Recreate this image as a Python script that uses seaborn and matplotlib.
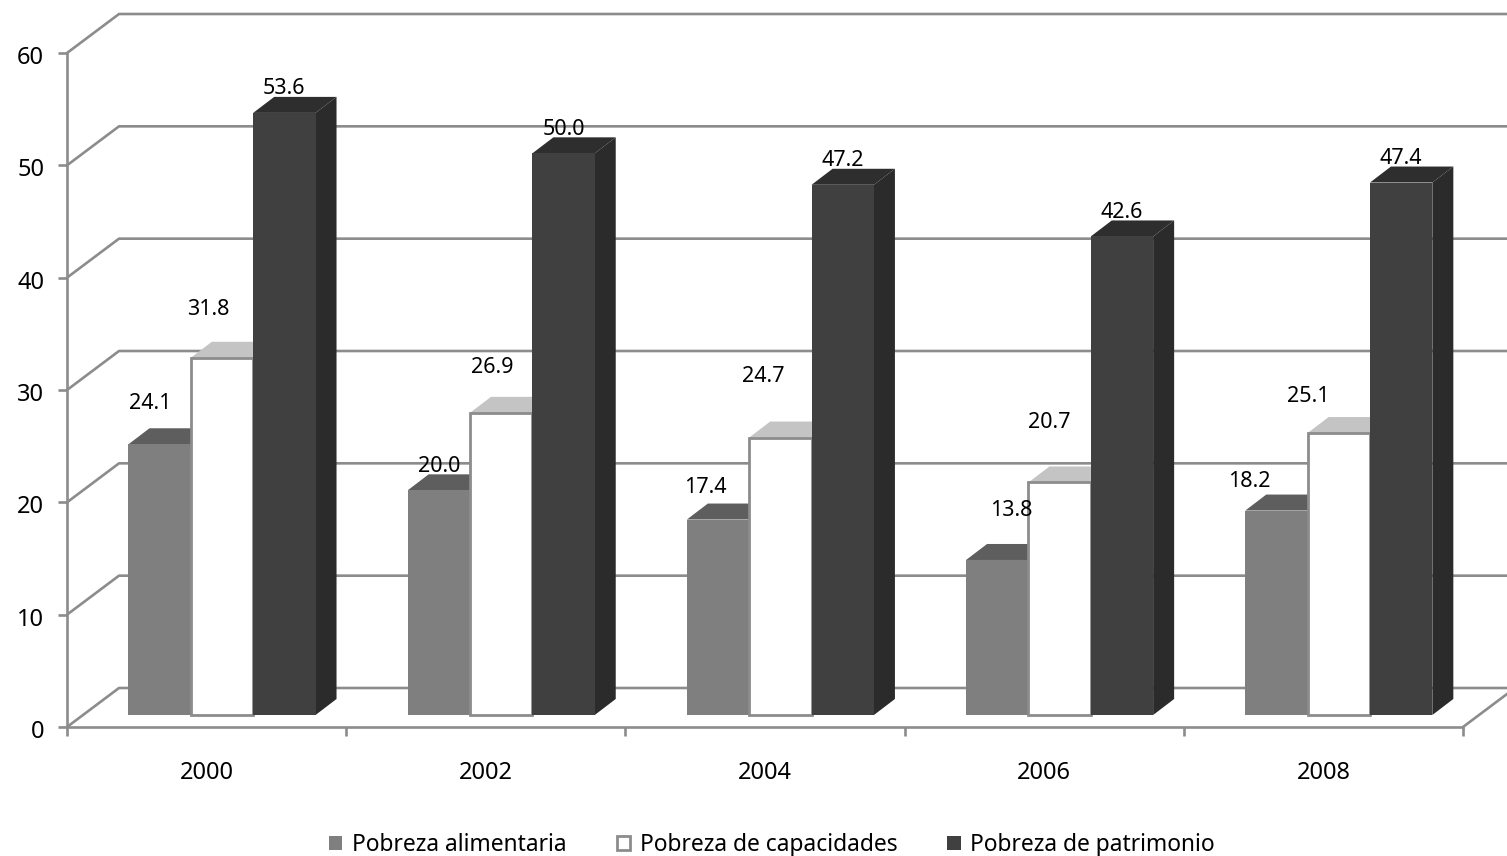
import matplotlib
matplotlib.use('Agg')
import matplotlib.pyplot as plt
from matplotlib.transforms import Affine2D
import pandas as pd
import seaborn as sns

# Poverty rates by year
years = ['2000', '2002', '2004', '2006', '2008']
series_names = ['Pobreza alimentaria', 'Pobreza de capacidades', 'Pobreza de patrimonio']
alimentaria = [24.1, 20.0, 17.4, 13.8, 18.2]
capacidades = [31.8, 26.9, 24.7, 20.7, 25.1]
patrimonio = [53.6, 50.0, 47.2, 42.6, 47.4]
y_ticks = [0, 10, 20, 30, 40, 50, 60]

# Label offsets from bar centre / bar top, in pixels
label_dx = [[-9, 0, -13, 14, -27], [-14, -9, -17, -10, -31], [0, 0, 0, 0, 0]]
label_dy = [[41, 24, 32, 49, 29], [48, 45, 61, 60, 37], [24, 24, 24, 24, 24]]

front_colors = ['#7f7f7f', '#ffffff', '#404040']
top_colors = ['#5e5e5e', '#c4c4c4', '#2e2e2e']
side_colors = ['#5e5e5e', '#c4c4c4', '#2b2b2b']
line_color = '#8c8c8c'
line_w = 1.9

sns.set_style('white')
plt.rcParams['font.family'] = ['Noto Sans', 'DejaVu Sans']

W, H = 1507, 856
fig = plt.figure(figsize=(W / 100, H / 100), dpi=100)
ax = fig.add_axes([67 / W, 1 - 727 / H, (1463 - 67) / W, (727 - 53) / H])

df = pd.DataFrame({
    'year': years * 3,
    'serie': [s for s in series_names for _ in years],
    'valor': alimentaria + capacidades + patrimonio,
})
sns.barplot(data=df, x='year', y='valor', hue='serie', hue_order=series_names,
            palette=front_colors, saturation=1, width=0.67, gap=0, errorbar=None,
            legend=False, ax=ax, zorder=3)
ax.set_xlim(-0.5, 4.5)
ax.set_ylim(0, 60)
ax.set_xlabel('')
ax.set_ylabel('')

# pixels to data units
px_x = 1 / ((1463 - 67) / 5)
px_y = 60 / (727 - 53)

# walls: diagonal + back line for every gridline
wall_dx = 52 * px_x
wall_dy = 39 * px_y
for t in y_ticks:
    ax.plot([-0.5, -0.5 + wall_dx, 4.5 + wall_dx], [t, t + wall_dy, t + wall_dy],
            color=line_color, lw=line_w, clip_on=False, zorder=1)
ax.plot([4.5, 4.5 + wall_dx], [0, wall_dy], color=line_color, lw=line_w,
        clip_on=False, zorder=1)

# bars sit forward of the axis, then get a top and side face
shift_x = 15.4 * px_x
shift_y = 12 * px_y
depth_x = 21 * px_x
depth_y = 16 * px_y
for s, container in enumerate(ax.containers):
    z = 3 + s
    for i, bar in enumerate(container):
        x0 = bar.get_x() + shift_x
        w = bar.get_width()
        h = bar.get_height()
        bar.set_x(x0)
        bar.set_y(shift_y)
        bar.set_zorder(z + 0.2)
        bar.set_clip_on(False)
        if s == 1:
            bar.set_edgecolor(line_color)
            bar.set_linewidth(2)
        else:
            bar.set_edgecolor(front_colors[s])
            bar.set_linewidth(0)
        top = shift_y + h
        ax.fill([x0, x0 + depth_x, x0 + w + depth_x, x0 + w],
                [top, top + depth_y, top + depth_y, top],
                color=top_colors[s], lw=0, clip_on=False, zorder=z)
        ax.fill([x0 + w, x0 + w + depth_x, x0 + w + depth_x, x0 + w],
                [shift_y, shift_y + depth_y, top + depth_y, top],
                color=side_colors[s], lw=0, clip_on=False, zorder=z)
        ax.annotate(f'{h:.1f}', xy=(x0 + w / 2, top),
                    xytext=(label_dx[s][i], label_dy[s][i]),
                    textcoords='offset pixels', ha='center', va='center',
                    fontsize=15.5, color='black', zorder=10, annotation_clip=False)

# axes
sns.despine(ax=ax)
for side in ['left', 'bottom']:
    ax.spines[side].set_color(line_color)
    ax.spines[side].set_linewidth(line_w)
ax.set_yticks(y_ticks)
ax.tick_params(axis='y', length=6.5, width=line_w, color=line_color, left=True,
               labelsize=17, labelcolor='black', pad=10)
for lab in ax.get_yticklabels():
    lab.set_transform(lab.get_transform() + Affine2D().translate(0, -2))
ax.set_xticks([i - 0.5 for i in range(len(years) + 1)])
ax.set_xticklabels([])
ax.set_xticks(range(len(years)), labels=years, minor=True)
ax.tick_params(axis='x', which='major', length=6.5, width=line_w, color=line_color, bottom=True)
ax.tick_params(axis='x', which='minor', length=0, labelsize=17, labelcolor='black', pad=24.5)

handles = [c[0] for c in ax.containers]
fig.legend(handles, series_names, loc='center', bbox_to_anchor=(772 / W, 1 - 845 / H),
           ncols=3, frameon=False, fontsize=16.4, labelcolor='black', handlelength=0.58,
           handleheight=0.58, handletextpad=0.42, columnspacing=2.2, borderpad=0,
           borderaxespad=0)

fig.savefig('out.png', dpi=100)
